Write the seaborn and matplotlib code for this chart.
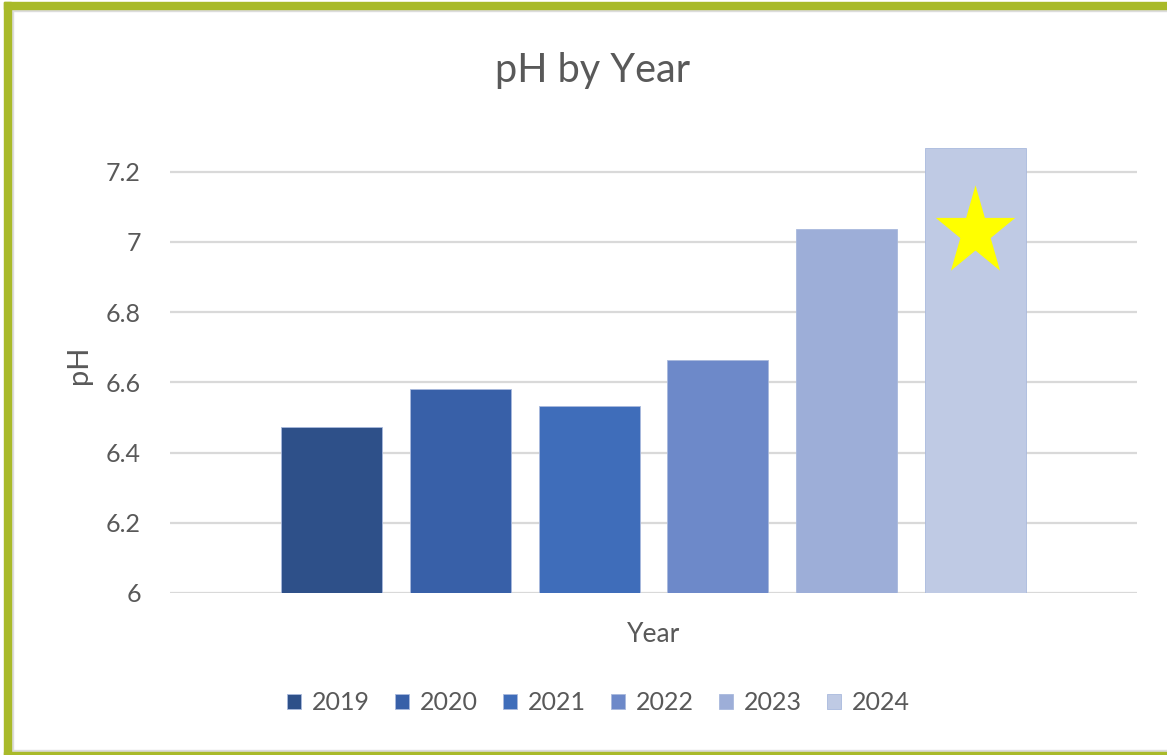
import numpy as np
import pandas as pd
import matplotlib
matplotlib.use("Agg")
import matplotlib.pyplot as plt
from matplotlib.patches import Rectangle
from matplotlib.path import Path
from matplotlib.ticker import FormatStrFormatter
import seaborn as sns

# pH readings by year
years = ["2019", "2020", "2021", "2022", "2023", "2024"]
ph_values = [6.473, 6.58, 6.533, 6.663, 7.036, 7.267]
bar_colors = ["#2E5089", "#3860A8", "#3F6DBA", "#6D89C9", "#9DAED8", "#BFCAE4"]
y_ticks = [6.0, 6.2, 6.4, 6.6, 6.8, 7.0, 7.2]
highlight_year = "2024"

df = pd.DataFrame({"group": [""] * len(years), "Year": years, "pH": ph_values})

sns.set_theme(style="white")
plt.rcParams["font.family"] = ["Lato", "DejaVu Sans"]
text_color = "#595959"

fig = plt.figure(figsize=(11.67, 7.55), dpi=100)
W, H = 1167, 755
ax_l, ax_r, ax_b, ax_t = 170, 1137, 593, 147
ax = fig.add_axes([ax_l / W, 1 - ax_b / H, (ax_r - ax_l) / W, (ax_b - ax_t) / H])

sns.barplot(data=df, x="group", y="pH", hue="Year", hue_order=years,
            palette=bar_colors, width=0.799, gap=0.215, saturation=1,
            edgecolor="#A9B9DD", linewidth=0.6, ax=ax, legend=True)

ax.set_ylim(6.0, 7.27)
ax.set_xlim(-0.5, 0.5)
ax.set_yticks(y_ticks)
ax.yaxis.set_major_formatter(FormatStrFormatter("%g"))
ax.yaxis.grid(True, color="#D9D9D9", linewidth=1.6)
ax.set_axisbelow(True)
for s in ax.spines.values():
    s.set_visible(False)
ax.tick_params(axis="y", length=0, pad=21, labelsize=18, labelcolor=text_color)
ax.tick_params(axis="x", length=0, labelbottom=False)

ax.set_ylabel("pH", fontsize=21, color=text_color)
ax.yaxis.set_label_coords((92 - ax_l) / (ax_r - ax_l), (ax_b - 365) / (ax_b - ax_t))
ax.set_xlabel("Year", fontsize=19, color=text_color)
ax.xaxis.set_label_coords(0.5, -(622 - ax_b) / (ax_b - ax_t))

fig.text(593 / W, 1 - 82 / H, "pH by Year", ha="center", va="baseline",
         fontsize=28.5, color=text_color)

# star on the highlighted bar
idx = years.index(highlight_year)
bars = [p for p in ax.patches if p.get_height() > 0][:len(years)]
bars = sorted(bars, key=lambda p: p.get_x())
hb = bars[idx]
star = Path.unit_regular_star(5, 0.381966)
star_path = Path(star.vertices * np.array([1.0, 1.13]), star.codes)
ax.plot(hb.get_x() + hb.get_width() / 2, ph_values[idx] - 0.24,
        marker=star_path, markersize=68, color="#FFFF00", linestyle="none",
        markeredgewidth=0, zorder=5)

# legend
handles, labels = ax.get_legend_handles_labels()
ax.legend(handles, labels, loc="center", bbox_to_anchor=(598 / W, 1 - 703 / H),
          bbox_transform=fig.transFigure, ncol=6, frameon=False, fontsize=18,
          handlelength=0.56, handleheight=0.56, handletextpad=0.44,
          columnspacing=1.0, labelcolor=text_color)

# frame around the figure
green = "#A9BA2A"
gray = "#DCDCDC"
fig.add_artist(Rectangle((4 / W, 0), 7 / W, 1 - 2 / H, transform=fig.transFigure,
                         color=green, zorder=10))
fig.add_artist(Rectangle((4 / W, 1 - 9 / H), 1 - 4 / W, 7 / H, transform=fig.transFigure,
                         color=green, zorder=10))
fig.add_artist(Rectangle((4 / W, 0), 1 - 4 / W, 3 / H, transform=fig.transFigure,
                         color=green, zorder=10))
fig.add_artist(Rectangle((11 / W, 3 / H), 2 / W, 1 - 12 / H, transform=fig.transFigure,
                         color=gray, zorder=9))
fig.add_artist(Rectangle((11 / W, 1 - 11 / H), 1 - 11 / W, 2 / H, transform=fig.transFigure,
                         color=gray, zorder=9))
fig.add_artist(Rectangle((11 / W, 3 / H), 1 - 11 / W, 2 / H, transform=fig.transFigure,
                         color=gray, zorder=9))

fig.savefig("out.png", dpi=100)
